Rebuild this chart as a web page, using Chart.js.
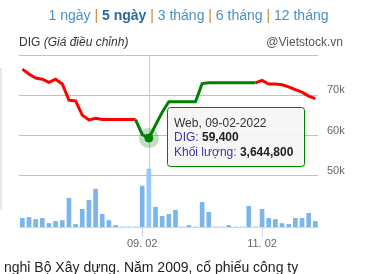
<!DOCTYPE html>
<html>
<head>
<meta charset="utf-8">
<script src="https://cdn.jsdelivr.net/npm/chart.js@4.4.1/dist/chart.umd.min.js"></script>
<style>
  body { margin: 0; width: 377px; height: 274px; overflow: hidden; background: #fff; position: relative; font-family: 'Liberation Sans', Arial, sans-serif; }
  #chart { position: absolute; left: 0; top: 0; }
  .ranges { position: absolute; left: 0; top: 6px; width: 377px; text-align: center; font-size: 14px; line-height: 18px; color: #4a90c8; white-space: nowrap; }
  .ranges b { color: #2a6aa3; }
  .ranges .sep { color: #c8873a; }
  .title { position: absolute; left: 19px; top: 34px; font-size: 12px; line-height: 16px; color: #333; }
  .credit { position: absolute; right: 34px; top: 34px; font-size: 12px; line-height: 16px; color: #555; }
  .para { position: absolute; left: 4px; top: 257px; font-size: 14px; line-height: 20px; color: #222; white-space: nowrap; }
  .edge { position: absolute; left: 0; top: 68px; width: 2px; height: 142px; background: #eee6ee; }
</style>
</head>
<body>
<canvas id="chart" width="377" height="274"></canvas>
<div class="ranges">1 ngày <span class="sep">|</span> <b>5 ngày</b> <span class="sep">|</span> 3 tháng <span class="sep">|</span> 6 tháng <span class="sep">|</span> 12 tháng</div>
<div class="title">DIG <i>(Giá điều chỉnh)</i></div>
<div class="credit">@Vietstock.vn</div>
<div class="edge"></div>
<div class="para">nghỉ Bộ Xây dựng. Năm 2009, cổ phiếu công ty</div>

<script>
// 5 sessions, 9 points per session
const dayLabels = ['07. 02', '08. 02', '09. 02', '10. 02', '11. 02'];
const pointsPerDay = 9;
const tickDays = ['09. 02', '11. 02'];

const prices = [
  76500, 75300, 74300, 74000, 73200, 74000, 72800, 68800, 68600,
  65100, 63900, 64300, 64000, 64000, 64000, 64000, 64000, 64000,
  60300, 59400, 62600, 65800, 68400, 68400, 68400, 68400, 68400,
  72900, 73100, 73100, 73100, 73100, 73100, 73100, 73100, 73100,
  73700, 72800, 72800, 72600, 72100, 71400, 70800, 69800, 69200
];

const volumes = [
  540000, 600000, 475000, 540000, 220000, 350000, 410000, 1810000, 160000,
  1110000, 1680000, 2380000, 790000, 410000, 95000, 0, 0, 0,
  2570000, 3644800, 1240000, 670000, 790000, 1050000, 0, 95000, 0,
  1550000, 920000, 0, 0, 95000, 0, 0, 1300000, 0,
  1110000, 540000, 475000, 220000, 160000, 540000, 540000, 860000, 350000
];

const priceTicks = [50000, 60000, 70000, 80000];

const seriesName = 'DIG';
const volumeName = 'Khối lượng';
const hoverIndex = 19;
const tooltipDate = 'Web, 09-02-2022';

// green stretch of the line (by point index)
const greenFrom = 17;
const greenTo = 35;

function fmt(n) {
  return n.toLocaleString('en-US');
}

const hoverPlugin = {
  id: 'hoverPoint',
  beforeDatasetsDraw(chart) {
    const { ctx, chartArea, scales } = chart;
    const x = scales.x.getPixelForValue(hoverIndex);
    const y = scales.y.getPixelForValue(prices[hoverIndex]);
    ctx.save();
    ctx.strokeStyle = '#cccccc';
    ctx.lineWidth = 1;
    ctx.beginPath();
    ctx.moveTo(Math.round(x) + 0.5, chartArea.top);
    ctx.lineTo(Math.round(x) + 0.5, chartArea.bottom);
    ctx.stroke();
    ctx.fillStyle = 'rgba(0,128,0,0.25)';
    ctx.beginPath();
    ctx.arc(x, y, 10, 0, Math.PI * 2);
    ctx.fill();
    ctx.restore();
  },
  afterDraw(chart) {
    const { ctx, scales } = chart;
    const px = scales.x.getPixelForValue(hoverIndex);
    const py = scales.y.getPixelForValue(prices[hoverIndex]);
    const font = "12px 'Liberation Sans', Arial, sans-serif";
    const bold = "bold 12px 'Liberation Sans', Arial, sans-serif";
    const lines = [
      [{ t: tooltipDate, c: '#333333', f: font }],
      [{ t: seriesName + ': ', c: '#3a3aa0', f: font }, { t: fmt(prices[hoverIndex]), c: '#222222', f: bold }],
      [{ t: volumeName + ': ', c: '#3a3aa0', f: font }, { t: fmt(volumes[hoverIndex]), c: '#222222', f: bold }]
    ];
    ctx.save();
    let maxW = 0;
    lines.forEach(parts => {
      let w = 0;
      parts.forEach(p => { ctx.font = p.f; w += ctx.measureText(p.t).width; });
      maxW = Math.max(maxW, w);
    });
    const left = Math.round(px + 18) + 0.5;
    const top = Math.round(py - 31) + 0.5;
    const w = Math.round(maxW + 18);
    const h = 59;

    ctx.shadowColor = 'rgba(0,0,0,0.18)';
    ctx.shadowOffsetX = 1;
    ctx.shadowOffsetY = 1;
    ctx.shadowBlur = 3;
    ctx.beginPath();
    ctx.roundRect(left, top, w, h, 3);
    ctx.fillStyle = 'rgba(248,248,248,0.92)';
    ctx.fill();
    ctx.shadowColor = 'transparent';
    ctx.strokeStyle = '#008000';
    ctx.lineWidth = 1;
    ctx.stroke();

    ctx.textBaseline = 'middle';
    lines.forEach((parts, i) => {
      let x = left + 6.5;
      const y = top + 16 + i * 14.5;
      parts.forEach(p => {
        ctx.font = p.f;
        ctx.fillStyle = p.c;
        ctx.fillText(p.t, x, y);
        x += ctx.measureText(p.t).width;
      });
    });
    ctx.restore();
  }
};

new Chart(document.getElementById('chart'), {
  type: 'bar',
  data: {
    datasets: [
      {
        type: 'line',
        label: seriesName,
        data: prices.map((p, i) => ({ x: i, y: p })),
        yAxisID: 'y',
        borderWidth: 3,
        borderColor: '#ff0000',
        tension: 0,
        segment: {
          borderColor: ctx => (ctx.p0DataIndex >= greenFrom && ctx.p1DataIndex <= greenTo) ? '#008000' : '#ff0000'
        },
        pointRadius: ctx => ctx.dataIndex === hoverIndex ? 4 : 0,
        pointBackgroundColor: '#008000',
        pointBorderColor: '#008000',
        pointBorderWidth: 1
      },
      {
        type: 'bar',
        label: volumeName,
        data: volumes.map((v, i) => ({ x: i, y: v })),
        yAxisID: 'yv',
        barThickness: 4,
        backgroundColor: ctx => ctx.dataIndex === hoverIndex ? '#96c9fa' : '#7cb5ec'
      }
    ]
  },
  options: {
    responsive: false,
    animation: false,
    events: [],
    layout: { padding: { left: 19, top: 55, right: 0, bottom: 0 } },
    plugins: { legend: { display: false }, tooltip: { enabled: false } },
    scales: {
      x: {
        type: 'linear',
        min: -0.5,
        max: 44.4,
        offset: false,
        afterBuildTicks: scale => {
          scale.ticks = tickDays.map(d => ({ value: dayLabels.indexOf(d) * pointsPerDay }));
        },
        afterFit: scale => { scale.height = 47; },
        grid: { offset: false, drawOnChartArea: false, color: '#ccd6eb', tickLength: 10 },
        border: { color: '#ccd6eb' },
        ticks: {
          color: '#666666',
          font: { size: 11, family: "'Liberation Sans', Arial, sans-serif" },
          padding: 0,
          maxRotation: 0,
          autoSkip: false,
          callback: v => dayLabels[v / pointsPerDay]
        }
      },
      y: {
        position: 'right',
        min: 37350,
        max: 80000,
        afterBuildTicks: scale => {
          scale.ticks = priceTicks.map(v => ({ value: v }));
        },
        afterFit: scale => { scale.width = 59; },
        grid: { color: '#c0c0c0', drawTicks: false },
        border: { display: false },
        ticks: {
          color: '#666666',
          font: { size: 11, family: "'Liberation Sans', Arial, sans-serif" },
          padding: 9,
          labelOffset: -5,
          callback: v => v === priceTicks[priceTicks.length - 1] ? '' : (v / 1000) + 'k'
        }
      },
      yv: {
        display: false,
        min: 0,
        max: 10800000
      }
    }
  },
  plugins: [hoverPlugin]
});
</script>
</body>
</html>
